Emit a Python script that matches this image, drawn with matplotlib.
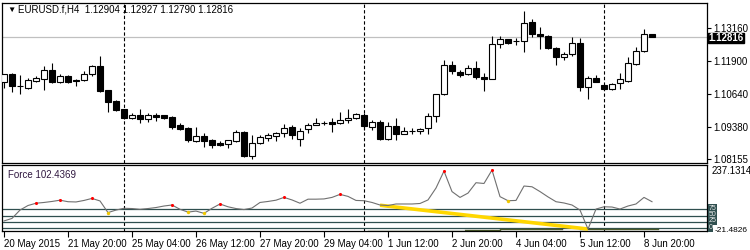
import matplotlib
matplotlib.use("Agg")
import matplotlib.pyplot as plt
import matplotlib.transforms as mtransforms

plt.rcParams['font.family'] = ['Liberation Sans', 'DejaVu Sans']

# EURUSD.f H4 candles
opens = [1.1108, 1.1140, 1.1096, 1.1088, 1.1114, 1.1122, 1.1154, 1.1111, 1.1131, 1.1117,
         1.1116, 1.1139, 1.1170, 1.1079, 1.1038, 1.1006, 1.0973, 1.0984, 1.0969, 1.0984,
         1.0984, 1.0978, 1.0945, 1.0936, 1.0885, 1.0904, 1.0889, 1.0879, 1.0875, 1.0885,
         1.0919, 1.0828, 1.0879, 1.0898, 1.0905, 1.0914, 1.0937, 1.0893, 1.0930, 1.0945,
         1.0952, 1.0956, 1.0955, 1.0964, 1.0971, 1.0985, 1.0940, 1.0956, 1.0893, 1.0941,
         1.0913, 1.0923, 1.0923, 1.0933, 1.0979, 1.1063, 1.1173, 1.1146, 1.1139, 1.1163,
         1.1128, 1.1120, 1.1253, 1.1272, 1.1265, 1.1265, 1.1336, 1.1291, 1.1284, 1.1240,
         1.1206, 1.1215, 1.1256, 1.1092, 1.1123, 1.1098, 1.1082, 1.1104, 1.1113, 1.1178,
         1.1228, 1.12904]
highs = [1.1140, 1.1144, 1.1137, 1.1124, 1.1131, 1.1171, 1.1183, 1.1141, 1.1135, 1.1121,
         1.1152, 1.1174, 1.1208, 1.1080, 1.1041, 1.1008, 1.0990, 1.1008, 1.0990, 1.0990,
         1.0984, 1.0980, 1.0955, 1.0940, 1.0940, 1.0917, 1.0892, 1.0884, 1.0889, 1.0927,
         1.0922, 1.0908, 1.0908, 1.0917, 1.0921, 1.0950, 1.0945, 1.0936, 1.0955, 1.0974,
         1.0962, 1.0974, 1.0994, 1.1006, 1.0990, 1.0990, 1.0965, 1.0965, 1.0956, 1.0974,
         1.0938, 1.0935, 1.0933, 1.0993, 1.1065, 1.1193, 1.1189, 1.1155, 1.1173, 1.1188,
         1.1142, 1.1283, 1.1285, 1.1273, 1.1275, 1.1379, 1.1349, 1.1317, 1.1288, 1.1244,
         1.1225, 1.1280, 1.1278, 1.1132, 1.1136, 1.1101, 1.1104, 1.1145, 1.1206, 1.1244,
         1.1310, 1.12927]
lows = [1.1087, 1.1073, 1.1065, 1.1082, 1.1108, 1.1078, 1.1107, 1.1104, 1.1106, 1.1095,
        1.1113, 1.1132, 1.1073, 1.0997, 1.1000, 1.0970, 1.0969, 1.0955, 1.0959, 1.0962,
        1.0969, 1.0932, 1.0928, 1.0883, 1.0883, 1.0864, 1.0860, 1.0867, 1.0860, 1.0883,
        1.0823, 1.0816, 1.0873, 1.0886, 1.0886, 1.0902, 1.0892, 1.0866, 1.0917, 1.0945,
        1.0946, 1.0921, 1.0949, 1.0955, 1.0969, 1.0927, 1.0927, 1.0889, 1.0889, 1.0889,
        1.0911, 1.0911, 1.0912, 1.0913, 1.0956, 1.1060, 1.1139, 1.1130, 1.1136, 1.1121,
        1.1076, 1.1119, 1.1240, 1.1253, 1.1250, 1.1225, 1.1282, 1.1235, 1.1234, 1.1174,
        1.1193, 1.1209, 1.1075, 1.1045, 1.1108, 1.1079, 1.1080, 1.1084, 1.1108, 1.1174,
        1.1225, 1.12790]
closes = [1.1140, 1.1095, 1.1095, 1.1117, 1.1125, 1.1154, 1.1111, 1.1131, 1.1108, 1.1112,
          1.1140, 1.1170, 1.1076, 1.1035, 1.1003, 1.0973, 1.0985, 1.0969, 1.0984, 1.0978,
          1.0973, 1.0940, 1.0932, 1.0888, 1.0904, 1.0884, 1.0871, 1.0871, 1.0889, 1.0918,
          1.0827, 1.0879, 1.0902, 1.0908, 1.0914, 1.0936, 1.0908, 1.0924, 1.0947, 1.0954,
          1.0953, 1.0951, 1.0965, 1.0971, 1.0988, 1.0942, 1.0956, 1.0893, 1.0941, 1.0912,
          1.0923, 1.0922, 1.0931, 1.0979, 1.1063, 1.1173, 1.1150, 1.1137, 1.1161, 1.1127,
          1.1120, 1.1253, 1.1273, 1.1259, 1.1264, 1.1335, 1.1291, 1.1285, 1.1237, 1.1206,
          1.1215, 1.1256, 1.1092, 1.1123, 1.1111, 1.1082, 1.1103, 1.1121, 1.1180, 1.1228,
          1.1291, 1.12816]

# Force indicator
force = [29, 39, 72, 90, 99, 102, 106, 111, 105, 104,
         110, 118, 108, 62, 72, 79, 78, 75, 78, 82,
         88, 92, 75, 64, 68, 59, 79, 96, 85, 78,
         74, 80, 102, 106, 111, 122, 112, 99, 115, 115,
         116, 122, 134, 126, 110, 109, 102, 92, 90, 96,
         96, 96, 98, 112, 159, 226, 145, 122, 139, 180,
         177, 230, 125, 109, 110, 167, 164, 145, 124, 105,
         100, 92, 72, -3, 76, 85, 84, 76, 88, 96,
         122, 105]
peak_idx = [4, 7, 11, 21, 27, 35, 42, 55, 61]
trough_idx = [13, 23, 25, 63]
levels = [75, 50, 25, 0]
level_labels = ['75', '50', '25', '0']
trend_x = [47, 73]
trend_y = [91, -3]
olive_x = [[45.5, 57.4], [57.6, 62], [62, 69.7], [72, 81.7]]
olive_y = [[-9, -9], [-7, -7], [-3, -3], [-3, -3]]

date_pos = [0, 8, 16, 24, 32, 40, 48, 56, 64, 72, 80]
date_labels = ['20 May 2015', '21 May 20:00', '25 May 04:00', '26 May 12:00',
               '27 May 20:00', '29 May 04:00', '1 Jun 12:00', '2 Jun 20:00',
               '4 Jun 04:00', '5 Jun 12:00', '8 Jun 20:00']
price_ticks = [1.13160, 1.11900, 1.10640, 1.09380, 1.08155]
separators = [15, 45, 75]
last_price = 1.12816

fig = plt.figure(figsize=(7.5, 2.5), dpi=100)
ax = fig.add_axes([2 / 750, 87 / 250, 705 / 750, 160 / 250])
ax2 = fig.add_axes([2 / 750, 19 / 250, 705 / 750, 66 / 250])

x = list(range(len(opens)))
ax.vlines(x, lows, highs, color='black', lw=0.8, zorder=2)
for i in x:
    o, c = opens[i], closes[i]
    up = c >= o
    ax.bar(i, abs(c - o), bottom=min(o, c), width=0.7,
           color='white' if up else 'black', edgecolor='black', lw=0.8, zorder=3)

ax.axhline(last_price, color='#c0c0c0', lw=0.9, zorder=1)
for s in separators:
    ax.axvline(s, color='black', ls=(0, (3, 2)), lw=0.8, zorder=1)
    ax2.axvline(s, color='black', ls=(0, (3, 2)), lw=0.8, zorder=1)

ax.set_xlim(-0.25, 87.875)
ax.set_ylim(1.08016, 1.14096)
ax.set_xticks([])
ax.yaxis.tick_right()
ax.set_yticks(price_ticks)
ax.set_yticklabels(['%.5f' % p for p in price_ticks])
ax.tick_params(axis='y', length=3, width=0.8, labelsize=7, pad=1.5)

tr = mtransforms.blended_transform_factory(ax.transAxes, ax.transData)
ax.text(1.0015, last_price - 0.0005, '1.12816', transform=tr, fontsize=7, color='white',
        fontweight='bold', va='center', ha='left',
        bbox=dict(boxstyle='square,pad=0.03', fc='black', ec='black'))

fig.text(7 / 750, 1 - 10 / 250, '\u25bc', fontsize=6, va='center', ha='left')
fig.text(18 / 750, 1 - 10 / 250, 'EURUSD.f,H4  1.12904 1.12927 1.12790 1.12816',
         fontsize=7, va='center', ha='left')

# indicator panel
for lv in levels:
    ax2.axhline(lv, color='#2f4f4f', lw=0.9, zorder=1)
for xs, ys in zip(olive_x, olive_y):
    ax2.plot(xs, ys, color='#4b5a2a', lw=1.0, zorder=2)
ax2.plot(trend_x, trend_y, color='#ffd700', lw=2.6, zorder=3, solid_capstyle='butt')
ax2.plot(x, force, color='#707070', lw=0.8, zorder=4)
ax2.scatter(peak_idx, [force[i] for i in peak_idx], s=5, color='#ff0000', zorder=5, lw=0)
ax2.scatter(trough_idx, [force[i] for i in trough_idx], s=6, color='#f0c800', zorder=5, lw=0)

ax2.set_xlim(-0.25, 87.875)
ax2.set_ylim(-10.7, 250)
ax2.set_yticks([])
ax2.set_xticks(date_pos)
ax2.set_xticklabels(date_labels, ha='left')
ax2.tick_params(axis='x', length=4, width=0.8, labelsize=7, pad=2)

tr2 = mtransforms.blended_transform_factory(ax2.transAxes, ax2.transData)
ax2.text(1.006, 1 - 6 / 66, '237.1314', transform=ax2.transAxes, fontsize=7,
         va='center', ha='left')
ax2.text(1.0115, -7, '-21.4826', transform=tr2, fontsize=6,
         va='center', ha='left')
for lv, lab in zip(levels[:3], level_labels[:3]):
    ax2.text(1.002, lv + 4, lab, transform=tr2, fontsize=5, color='#e8e8e8',
             va='center', ha='left',
             bbox=dict(boxstyle='square,pad=0.05', fc='#2f4f4f', ec='none'))
ax2.text(1.002, levels[3] + 2, level_labels[3], transform=tr2, fontsize=5,
         color='#e8e8e8', va='center', ha='left',
         bbox=dict(boxstyle='square,pad=0.05', fc='#2f4f4f', ec='none'))
ax2.text(6 / 705, 1 - 10 / 66, 'Force 102.4369', transform=ax2.transAxes,
         fontsize=7, color='#301840', va='center', ha='left')

for a in (ax, ax2):
    for sp in a.spines.values():
        sp.set_color('black')
        sp.set_linewidth(0.9)

fig.savefig('out.png', dpi=100, facecolor='white')
